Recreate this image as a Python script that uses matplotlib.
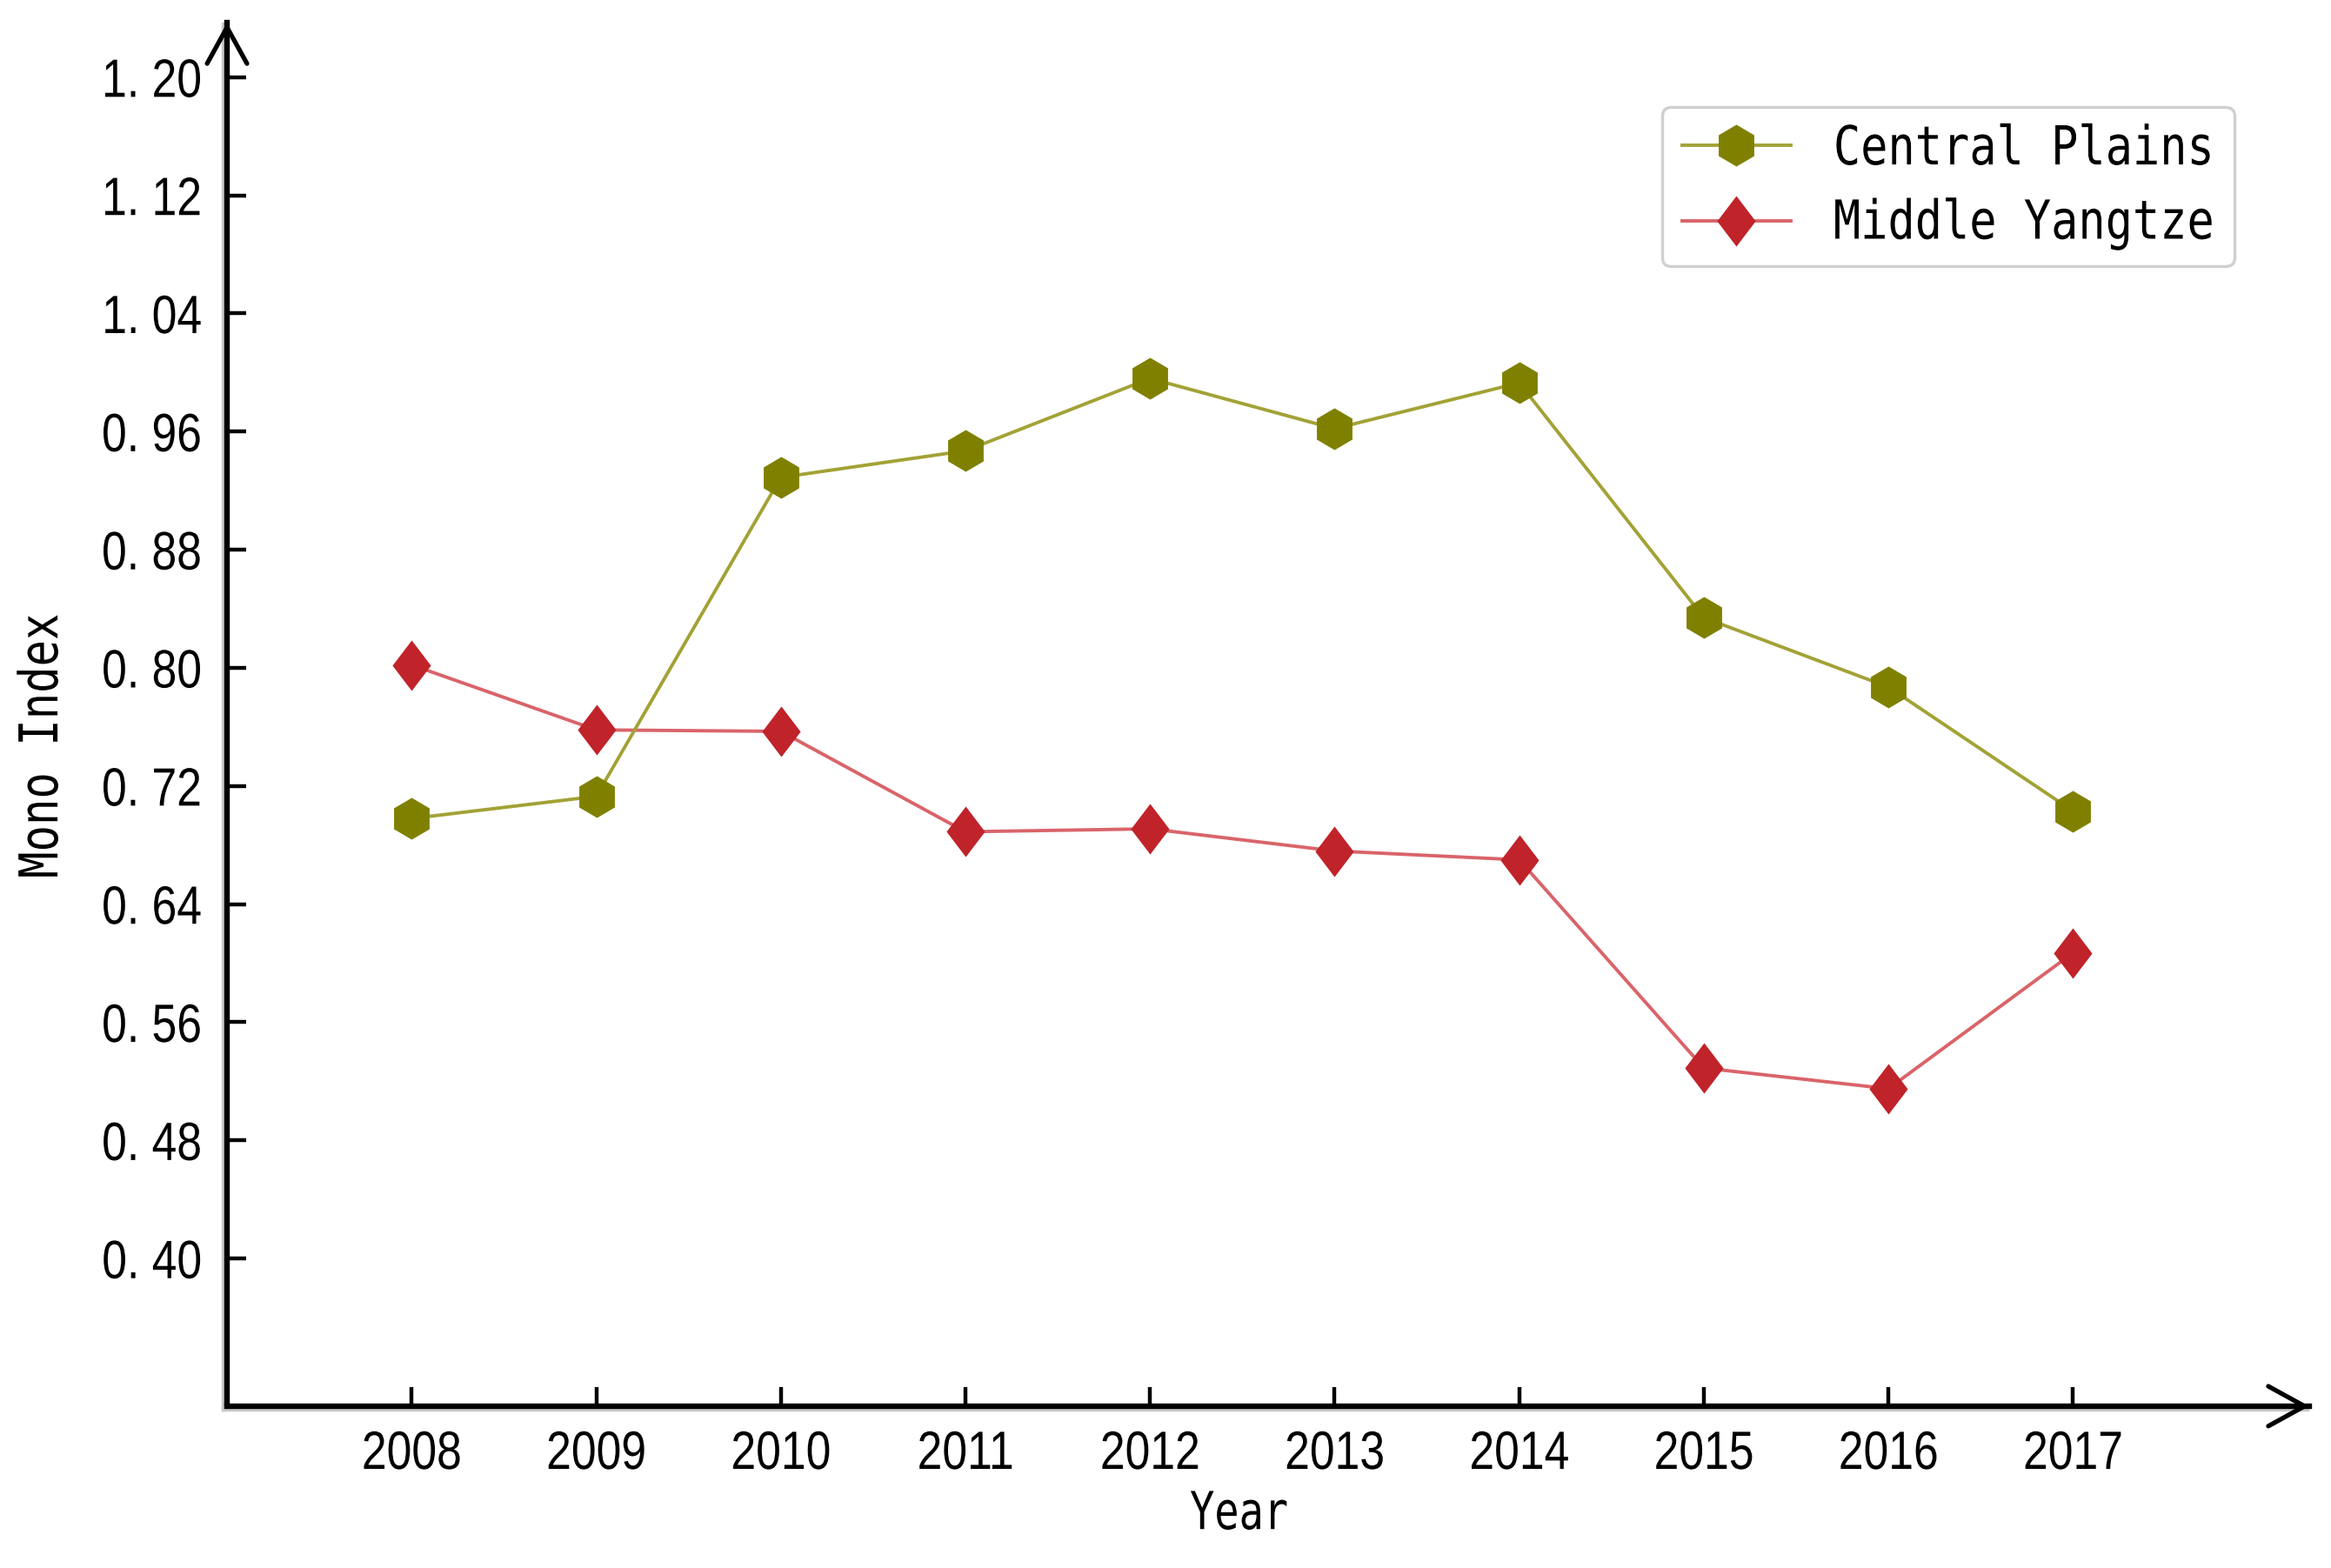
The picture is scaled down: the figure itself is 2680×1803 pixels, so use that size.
import matplotlib
matplotlib.use('Agg')
import matplotlib.pyplot as plt
import numpy as np
from matplotlib.path import Path
from matplotlib.transforms import Affine2D
from matplotlib import patheffects as pe
from matplotlib import font_manager as fm

# ---------------- data ----------------
years = [2008, 2009, 2010, 2011, 2012, 2013, 2014, 2015, 2016, 2017]
x_tick_labels = ['2008', '2009', '2010', '2011', '2012', '2013', '2014', '2015', '2016', '2017']
central_plains = [0.698, 0.713, 0.929, 0.947, 0.996, 0.962, 0.993, 0.834, 0.787, 0.703]
middle_yangtze = [0.802, 0.758, 0.757, 0.689, 0.691, 0.676, 0.670, 0.529, 0.515, 0.607]
series_names = ['Central Plains', 'Middle Yangtze']
y_ticks = [0.40, 0.48, 0.56, 0.64, 0.72, 0.80, 0.88, 0.96, 1.04, 1.12, 1.20]
y_tick_labels = ['0. 40', '0. 48', '0. 56', '0. 64', '0. 72', '0. 80',
                 '0. 88', '0. 96', '1. 04', '1. 12', '1. 20']
x_label = 'Year'
y_label = 'Mono Index'

# ---------------- fonts ----------------
_names = {f.name for f in fm.fontManager.ttflist}
if 'Liberation Sans Narrow' in _names:
    tick_font, tick_size, tick_stretch = 'Liberation Sans Narrow', 23.0, 1.0
elif 'Liberation Sans' in _names:
    tick_font, tick_size, tick_stretch = 'Liberation Sans', 18.6, 1.2
else:
    tick_font, tick_size, tick_stretch = 'DejaVu Sans', 17.5, 1.25
mono_font = 'DejaVu Sans Mono'


class Stretch(pe.AbstractPathEffect):
    """Stretch glyph outlines about the centre of the text (keeps real text)."""

    def __init__(self, sx=1.0, sy=1.0):
        super().__init__()
        self.sx, self.sy = sx, sy

    def draw_path(self, renderer, gc, tpath, affine, rgbFace=None):
        v = affine.transform(tpath.vertices) if len(tpath.vertices) else None
        if v is None or len(v) == 0:
            renderer.draw_path(gc, tpath, affine, rgbFace)
            return
        cx = (v[:, 0].min() + v[:, 0].max()) / 2
        cy = (v[:, 1].min() + v[:, 1].max()) / 2
        aff = affine + Affine2D().translate(-cx, -cy).scale(self.sx, self.sy).translate(cx, cy)
        renderer.draw_path(gc, tpath, aff, rgbFace)


# ---------------- markers ----------------
hw = 0.85
cp_marker = Path([(0, 1), (hw, 0.5), (hw, -0.5), (0, -1), (-hw, -0.5), (-hw, 0.5), (0, 1)],
                 closed=True)
dw = 0.76
my_marker = Path([(0, 1), (dw, 0), (0, -1), (-dw, 0), (0, 1)], closed=True)

# ---------------- figure ----------------
fig = plt.figure(figsize=(13.4, 9.015), dpi=200)
ax = fig.add_axes([0.0974, 0.1032, 0.8933, 0.8824])

l2, = ax.plot(years, middle_yangtze, color='#d9646a', lw=1.4,
              marker=my_marker, ms=20.9, mfc='#c0232a', mec='#c0232a', mew=0,
              label=series_names[1], zorder=3)
l1, = ax.plot(years, central_plains, color='#a2a236', lw=1.4,
              marker=cp_marker, ms=17.3, mfc='#808000', mec='#808000', mew=0,
              label=series_names[0], zorder=4)

ax.set_xlim(2007, 2018.28)
ax.set_ylim(0.30, 1.237)
ax.set_xticks(years)
ax.set_xticklabels(x_tick_labels)
ax.set_yticks(y_ticks)
ax.set_yticklabels(y_tick_labels)

for lab in ax.get_xticklabels() + ax.get_yticklabels():
    lab.set_fontfamily(tick_font)
    lab.set_fontsize(tick_size)
    lab.set_path_effects([Stretch(1.0, tick_stretch)])

ax.tick_params(axis='both', direction='in', length=8, width=1.6, color='black')
ax.tick_params(axis='x', pad=11)
ax.tick_params(axis='y', pad=10.5)

for s in ['top', 'right']:
    ax.spines[s].set_visible(False)
shadow = [pe.SimpleLineShadow(offset=(-1.0, -1.0), shadow_color='#c8c8c8', alpha=1.0), pe.Normal()]
for s in ['left', 'bottom']:
    ax.spines[s].set_linewidth(2.3)
    ax.spines[s].set_color('black')
    ax.spines[s].set_path_effects(shadow)

# axis arrows
arrow_kw = dict(arrowstyle='->,head_length=1.0,head_width=0.55', lw=1.9, color='black',
                shrinkA=0, shrinkB=0, mutation_scale=15)
ax.annotate('', xy=(0, 1.0), xytext=(0, 0.95), xycoords='axes fraction',
            arrowprops=arrow_kw, annotation_clip=False)
ax.annotate('', xy=(1.0, 0), xytext=(0.95, 0), xycoords='axes fraction',
            arrowprops=arrow_kw, annotation_clip=False)

xl = ax.set_xlabel(x_label, fontfamily=mono_font, fontsize=16.9, va='center')
yl = ax.set_ylabel(y_label, fontfamily=mono_font, fontsize=18.2, va='center')
xl.set_path_effects([Stretch(1.0, 1.28)])
yl.set_path_effects([Stretch(1.22, 1.0)])
ax.xaxis.set_label_coords(0.486, -0.078)
ax.yaxis.set_label_coords(-0.089, 0.477)

leg = ax.legend(handles=[l1, l2], loc='upper left', bbox_to_anchor=(0.689, 0.939),
                borderaxespad=0, prop={'family': mono_font, 'size': 18.7},
                handlelength=2.4, handletextpad=0.95, labelspacing=0.7,
                borderpad=0.45, frameon=True, fancybox=True, framealpha=1.0)
leg.get_frame().set_edgecolor('#cfcfcf')
leg.get_frame().set_linewidth(1.2)
for txt in leg.get_texts():
    txt.set_path_effects([Stretch(1.0, 1.19)])

fig.savefig('out.png', dpi=200, facecolor='white')
